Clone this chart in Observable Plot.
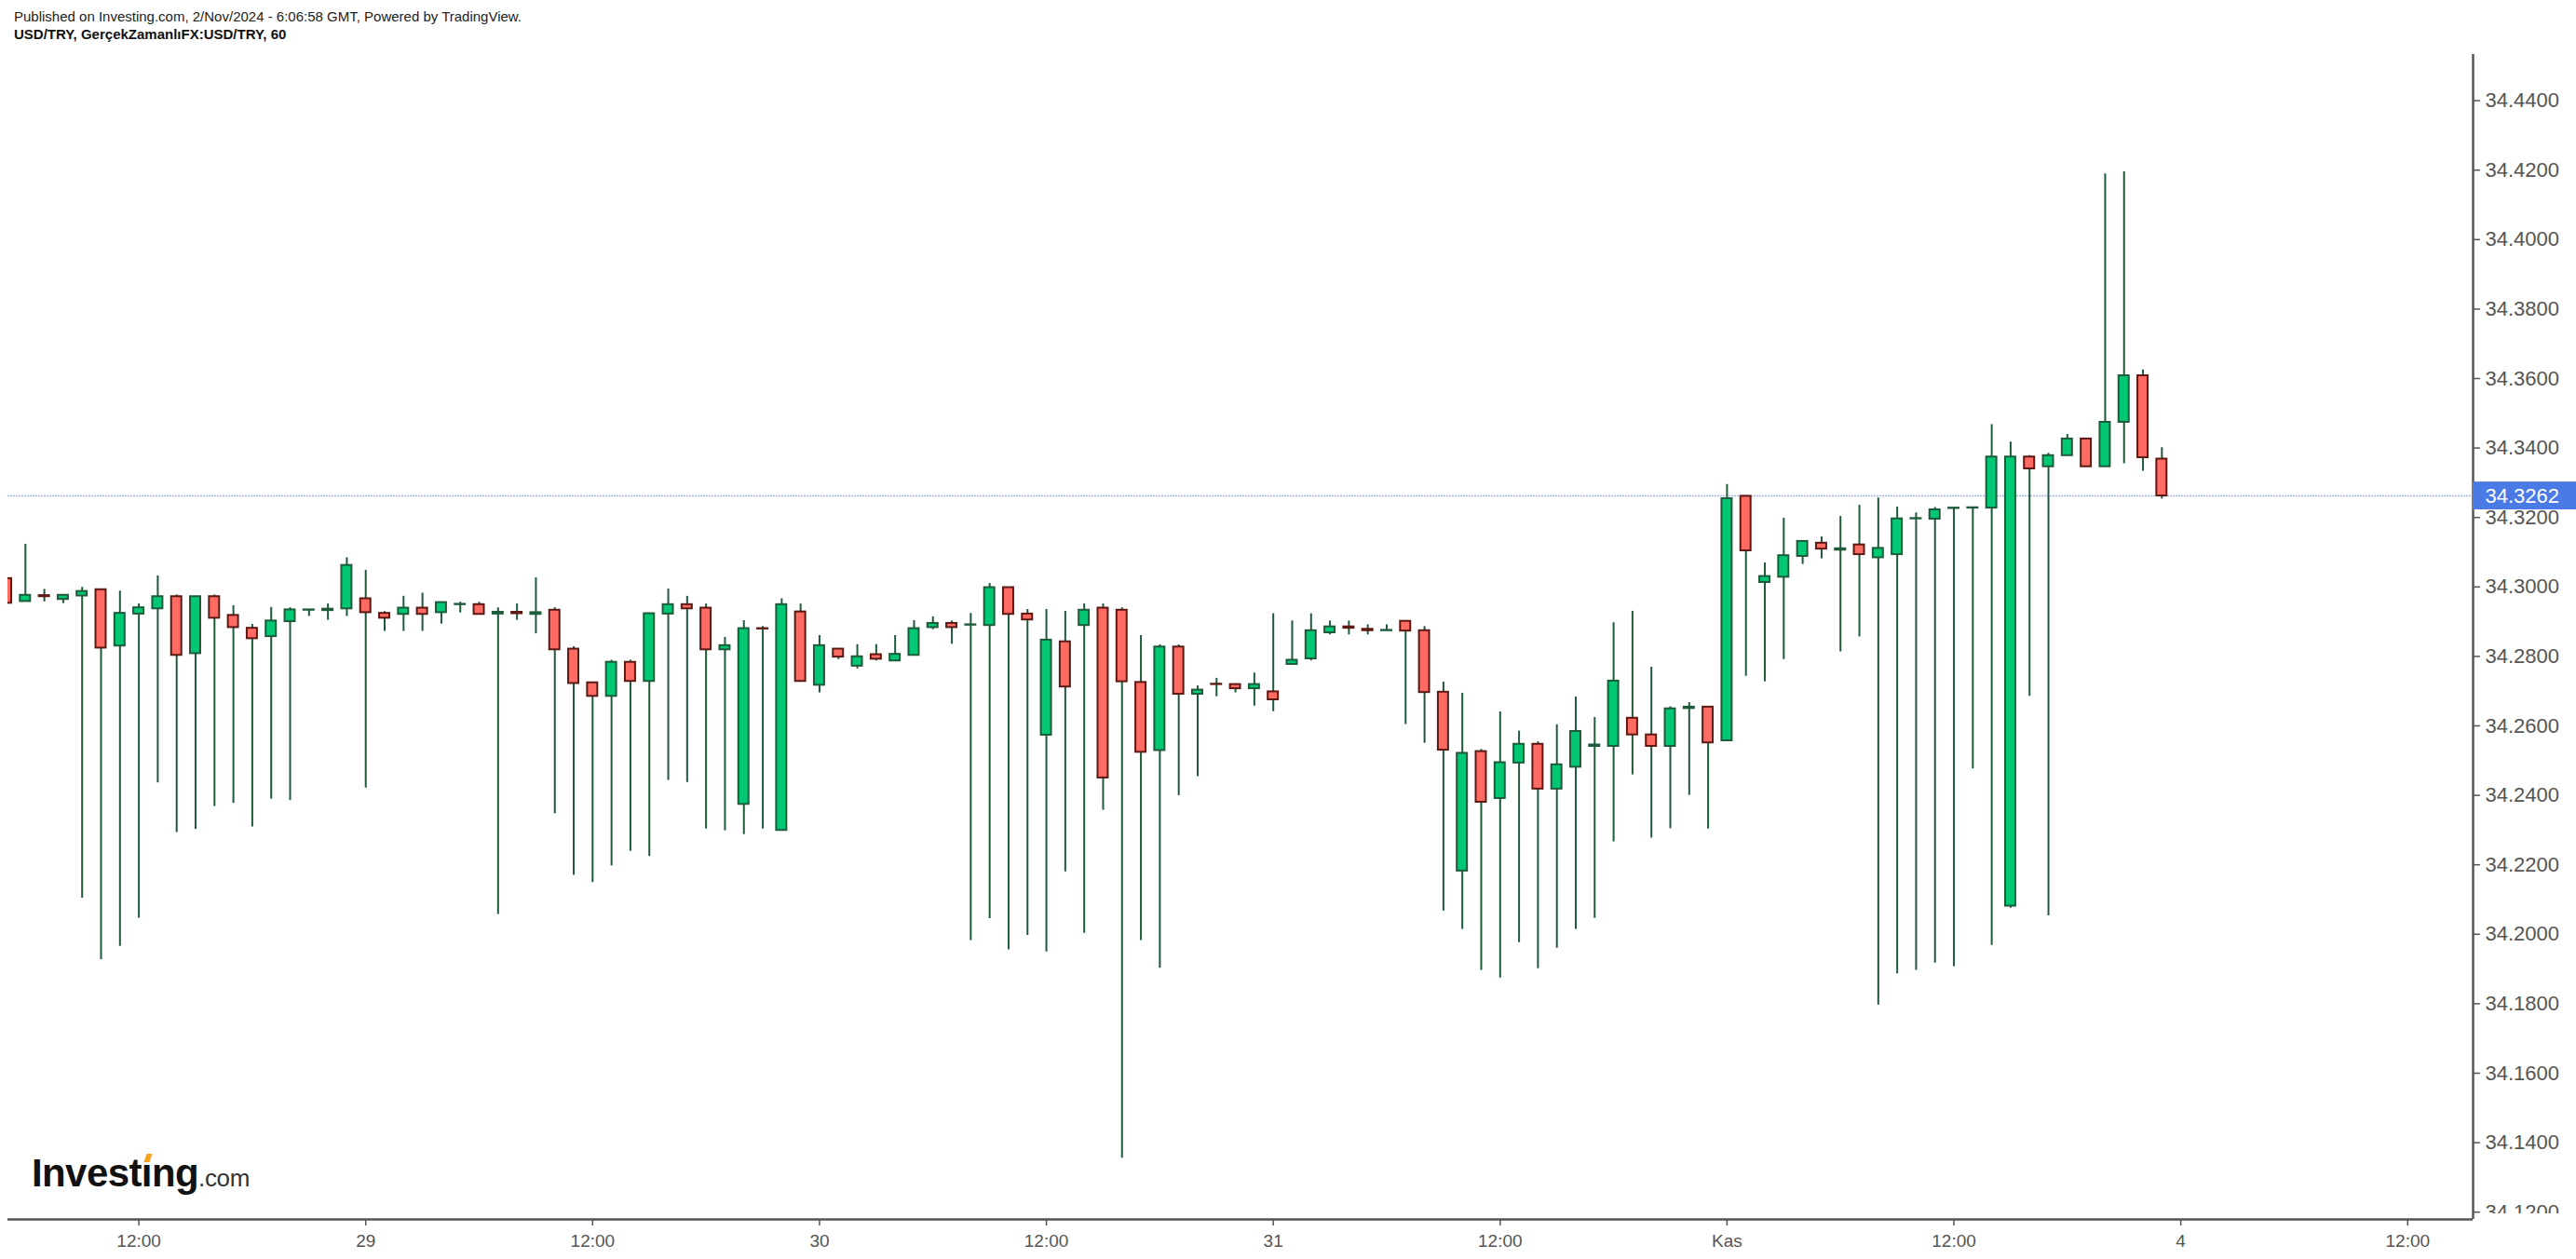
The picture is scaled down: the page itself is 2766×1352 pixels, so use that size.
<!DOCTYPE html>
<html>
<head>
<meta charset="utf-8">
<script src="https://cdn.jsdelivr.net/npm/d3@7"></script>
<script src="https://cdn.jsdelivr.net/npm/@observablehq/plot@0.6"></script>
<style>
  html, body { margin: 0; padding: 0; background: #fff; }
  #page { position: relative; width: 2766px; height: 1352px; overflow: hidden; background: #fff; }
  #header { position: relative; height: 50px; }
  .hl { position: absolute; left: 15px; font-family: "Liberation Sans Narrow", "Arial Narrow", "Liberation Sans", Arial, sans-serif; font-size: 15px; color: #222; white-space: nowrap; line-height: 17px; }
  #l1 { top: 9px; }
  #l2 { top: 28px; font-weight: bold; color: #111; }
  #logo { position: absolute; left: 34px; top: 1236px; white-space: nowrap; font-family: "Liberation Sans", Arial, sans-serif; color: #111; }
  #logo .big { font-weight: bold; font-size: 42px; letter-spacing: -0.6px; }
  #logo .com { font-size: 26px; color: #333; letter-spacing: -0.3px; }
  #logo .dot { position: relative; }
  #logo .dot::after { content: ""; position: absolute; left: 4px; top: 3px; width: 6px; height: 9px; background: #f6a21c; transform: skewX(-18deg); }
  #cover { position: absolute; left: 2658px; top: 1303px; width: 108px; height: 49px; background: #fff; }
</style>
</head>
<body>
<div id="page">
  <div id="header">
    <div class="hl" id="l1">Published on Investing.com, 2/Nov/2024 - 6:06:58 GMT, Powered by TradingView.</div>
    <div class="hl" id="l2">USD/TRY, GerçekZamanlıFX:USD/TRY, 60</div>
  </div>
  <div id="chart"></div>
  <div id="cover"></div>
  <div id="logo"><span class="big">Invest<span class="dot">ı</span>ng</span><span class="com">.com</span></div>
</div>
<script>
// Hourly candles (USD/TRY, 60 min), Oct 28 05:00 -> Nov 1 23:00
const opens = [
34.3024,34.2958,34.2975,34.2964,34.2974,34.2992,34.2830,34.2922,34.2937,34.2972,
34.2808,34.2972,34.2918,34.2881,34.2857,34.2900,34.2933,34.2932,34.2937,34.2966,
34.2924,34.2921,34.2939,34.2926,34.2949,34.2949,34.2922,34.2927,34.2921,34.2933,
34.2821,34.2724,34.2685,34.2783,34.2728,34.2922,34.2949,34.2939,34.2819,34.2374,
34.2880,34.2299,34.2928,34.2717,34.2821,34.2772,34.2805,34.2787,34.2803,34.2883,
34.2895,34.2890,34.2889,34.2998,34.2922,34.2573,34.2842,34.2889,34.2939,34.2933,
34.2725,34.2529,34.2827,34.2691,34.2720,34.2719,34.2707,34.2698,34.2777,34.2793,
34.2868,34.2885,34.2878,34.2874,34.2901,34.2874,34.2697,34.2182,34.2526,34.2391,
34.2493,34.2547,34.2418,34.2481,34.2541,34.2541,34.2622,34.2574,34.2541,34.2650,
34.2654,34.2557,34.3261,34.3013,34.3028,34.3088,34.3126,34.3106,34.3121,34.3084,
34.3093,34.3196,34.3195,34.3226,34.3227,34.3227,34.2081,34.3374,34.3346,34.3378,
34.3426,34.3346,34.3474,34.3608,34.3368
];
const highs = [
34.3024,34.3123,34.2993,34.2976,34.2999,34.2992,34.2988,34.2951,34.3032,34.2977,
34.2972,34.2977,34.2946,34.2892,34.2941,34.2940,34.2934,34.2951,34.3084,34.3048,
34.2929,34.2973,34.2982,34.2955,34.2956,34.2956,34.2940,34.2951,34.3026,34.2940,
34.2828,34.2724,34.2789,34.2789,34.2923,34.2994,34.2973,34.2951,34.2855,34.2903,
34.2886,34.2966,34.2951,34.2860,34.2821,34.2834,34.2834,34.2860,34.2903,34.2914,
34.2902,34.2924,34.3010,34.2998,34.2935,34.2935,34.2930,34.2951,34.2951,34.2940,
34.2860,34.2833,34.2833,34.2715,34.2737,34.2719,34.2752,34.2923,34.2902,34.2923,
34.2902,34.2902,34.2891,34.2891,34.2901,34.2886,34.2726,34.2694,34.2532,34.2640,
34.2585,34.2554,34.2603,34.2683,34.2624,34.2897,34.2930,34.2769,34.2655,34.2667,
34.2654,34.3295,34.3261,34.3069,34.3198,34.3131,34.3144,34.3203,34.3235,34.3256,
34.3230,34.3213,34.3229,34.3227,34.3228,34.3467,34.3417,34.3378,34.3385,34.3439,
34.3426,34.4189,34.4195,34.3625,34.3401
];
const lows = [
34.2953,34.2958,34.2957,34.2952,34.2104,34.1927,34.1965,34.2046,34.2436,34.2293,
34.2302,34.2368,34.2377,34.2309,34.2389,34.2385,34.2915,34.2904,34.2915,34.2421,
34.2872,34.2872,34.2872,34.2893,34.2925,34.2921,34.2057,34.2904,34.2865,34.2347,
34.2170,34.2149,34.2197,34.2239,34.2224,34.2443,34.2437,34.2303,34.2298,34.2287,
34.2303,34.2299,34.2728,34.2695,34.2791,34.2764,34.2787,34.2787,34.2803,34.2877,
34.2835,34.1982,34.2045,34.1955,34.1997,34.1949,34.2180,34.2003,34.2357,34.1355,
34.1982,34.1902,34.2399,34.2454,34.2684,34.2695,34.2657,34.2641,34.2777,34.2787,
34.2862,34.2862,34.2862,34.2874,34.2604,34.2550,34.2067,34.2014,34.1896,34.1874,
34.1976,34.1901,34.1960,34.2014,34.2046,34.2266,34.2459,34.2277,34.2304,34.2400,
34.2303,34.2557,34.2743,34.2727,34.2791,34.3065,34.3081,34.2813,34.2856,34.1796,
34.1886,34.1896,34.1917,34.1907,34.2476,34.1968,34.2075,34.2685,34.2053,34.3378,
34.3346,34.3346,34.3355,34.3333,34.3253
];
const closes = [
34.2953,34.2976,34.2972,34.2976,34.2987,34.2824,34.2924,34.2940,34.2972,34.2803,
34.2972,34.2910,34.2883,34.2851,34.2902,34.2934,34.2934,34.2936,34.3062,34.2926,
34.2910,34.2939,34.2921,34.2955,34.2950,34.2921,34.2927,34.2923,34.2926,34.2819,
34.2722,34.2685,34.2783,34.2728,34.2923,34.2949,34.2937,34.2819,34.2831,34.2880,
34.2879,34.2949,34.2728,34.2831,34.2798,34.2799,34.2792,34.2806,34.2880,34.2895,
34.2883,34.2891,34.2998,34.2921,34.2905,34.2847,34.2712,34.2933,34.2450,34.2727,
34.2524,34.2827,34.2691,34.2703,34.2719,34.2707,34.2719,34.2675,34.2789,34.2874,
34.2885,34.2881,34.2874,34.2875,34.2873,34.2696,34.2530,34.2521,34.2380,34.2494,
34.2547,34.2418,34.2488,34.2584,34.2545,34.2729,34.2574,34.2541,34.2649,34.2654,
34.2551,34.3254,34.3104,34.3030,34.3090,34.3131,34.3109,34.3110,34.3093,34.3111,
34.3196,34.3197,34.3222,34.3227,34.3228,34.3374,34.3374,34.3340,34.3378,34.3426,
34.3346,34.3474,34.3608,34.3372,34.3262
];
// Axis ticks
const yTicks = [34.12,34.14,34.16,34.18,34.20,34.22,34.24,34.26,34.28,34.30,34.32,34.34,34.36,34.38,34.40,34.42,34.44];
const xTickIdx = [7,19,31,43,55,67,79,91,103,115,127];
const xTickLabels = ["12:00","29","12:00","30","12:00","31","12:00","Kas","12:00","4","12:00"];
const lastPrice = 34.3262;

const UP = "#02c874", UPB = "#1d5b3b", DN = "#ff6b62", DNB = "#5c1914", WICK = "#1f5a3b";
const data = opens.map((o, i) => ({i, open: o, high: highs[i], low: lows[i], close: closes[i], up: closes[i] >= o}));
const X0 = 0.074, X1 = 130.46, Y0 = 34.1179, Y1 = 34.4533;
const labelMap = new Map(xTickIdx.map((d, k) => [d, xTickLabels[k]]));

const chart = Plot.plot({
  width: 2766, height: 1302,
  marginLeft: 8, marginRight: 111, marginTop: 8, marginBottom: 43,
  x: {type: "linear", domain: [X0, X1]},
  y: {type: "linear", domain: [Y0, Y1]},
  color: {type: "identity"},
  style: {background: "white", fontFamily: "Liberation Sans, Arial, sans-serif"},
  marks: [
    Plot.ruleY([lastPrice], {stroke: "#a3b4f0", strokeWidth: 1.6, strokeDasharray: "2,1"}),
    Plot.ruleX(data, {x: "i", y1: "low", y2: "high", stroke: WICK, strokeWidth: 2, clip: true}),
    Plot.rect(data, {
      x1: d => d.i - 0.27, x2: d => d.i + 0.27, y1: "open", y2: "close",
      fill: d => d.up ? UP : DN, stroke: d => d.up ? UPB : DNB, strokeWidth: 2, clip: true
    }),
    Plot.ruleX([X1], {stroke: "#555", strokeWidth: 2.5}),
    Plot.ruleY([Y0], {stroke: "#555", strokeWidth: 2.5}),
    Plot.axisY(yTicks, {anchor: "right", tickFormat: d => d.toFixed(4), tickSize: 7, tickPadding: 6,
      fontSize: 22, fontFamily: "Liberation Sans, Arial, sans-serif", fill: "#555", stroke: "#555", strokeWidth: 1.5}),
    Plot.axisX(xTickIdx, {anchor: "bottom", tickFormat: d => labelMap.get(d), tickSize: 7, tickPadding: 9,
      fontSize: 19, fontFamily: "Liberation Sans Narrow, Arial Narrow, Liberation Sans, sans-serif", fill: "#555", stroke: "#555", strokeWidth: 1.5}),
    Plot.rect([lastPrice], {x1: () => X1, x2: () => X1 + 6, y1: d => d - 0.0040, y2: d => d + 0.0040, fill: () => "#4a7ae6"}),
    Plot.text([lastPrice], {x: () => X1, y: d => d, text: d => d.toFixed(4), dx: 13, textAnchor: "start",
      fill: "white", fontSize: 22, fontFamily: "Liberation Sans, Arial, sans-serif"})
  ]
});
document.getElementById("chart").appendChild(chart);
</script>
</body>
</html>
